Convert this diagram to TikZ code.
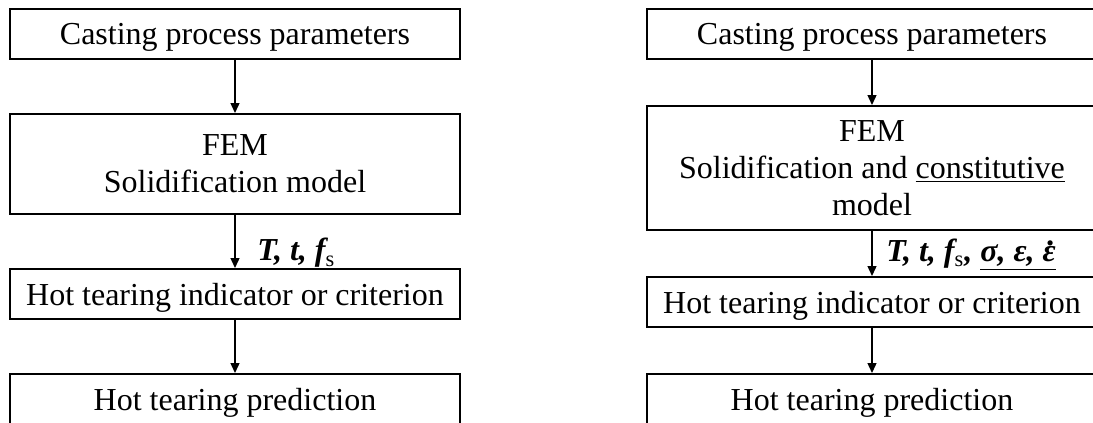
\documentclass[tikz,border=0pt]{standalone}
\usepackage{fontspec}
\setmainfont{Liberation Serif}
\usetikzlibrary{arrows.meta}
\newcommand{\epsdot}{{\ooalign{ε\cr\hidewidth\kern0.14em\raisebox{0.5em}{.}\hidewidth\cr}}}

\begin{document}
\begin{tikzpicture}[x=0.5pt,y={(0pt,-0.5pt)},
        box/.style={draw,line width=1pt,minimum width=225pt,inner sep=0pt,text depth=0pt,align=center,font=\fontsize{16}{18.5}\selectfont},
        flow/.style={line width=0.7pt,-{Triangle[length=5pt,width=4.5pt]}},
        param/.style={anchor=west,inner sep=0pt,font=\fontsize{16}{18}\selectfont\bfseries\itshape}]
            \useasboundingbox (0,0) rectangle (1093,423);

            \node[box,minimum height=25pt] (cppA) at (235,34) {Casting process parameters};
            \node[box,minimum height=50pt] (femA) at (235,164) {FEM\\Solidification model};
            \node[box,minimum height=25pt] (htiA) at (235,294) {Hot tearing indicator or criterion};
            \node[box,minimum height=25pt] (htpA) at (235,399) {Hot tearing prediction};

            \node[box,minimum height=25pt] (cppB) at (872,34) {Casting process parameters};
            \node[box,minimum height=62pt] (femB) at (872,168) {FEM\\Solidification and \underline{constitutive}\\model};
            \node[box,minimum height=25pt] (htiB) at (872,302) {Hot tearing indicator or criterion};
            \node[box,minimum height=25pt] (htpB) at (872,399) {Hot tearing prediction};

            \draw[flow] (cppA) -- (femA);
            \draw[flow] (femA) -- (htiA);
            \draw[flow] (htiA) -- (htpA);
            \node[param] (varA) at (257,253) {T, t, f\textsubscript{\upshape\mdseries s}};

            \draw[flow] (cppB) -- (femB);
            \draw[flow] (femB) -- (htiB);
            \draw[flow] (htiB) -- (htpB);
            \node[param] (varB) at (886,255) {T, t, f\textsubscript{\upshape\mdseries s}, \underline{σ, ε, \epsdot}};
        \end{tikzpicture}
\end{document}
